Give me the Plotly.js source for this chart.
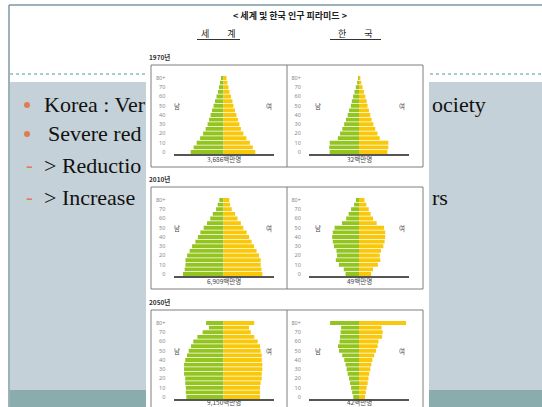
<!DOCTYPE html>
<html><head><meta charset="utf-8">
<script src="https://cdn.plot.ly/plotly-3.0.1.min.js"></script>
<style>html,body{margin:0;padding:0;background:#fff;} #chart{width:542px;height:407px;}</style>
</head><body><div id="chart"></div>
<script>
// ---- data (share of total population, %, by 5-year age group) ----
const ageGroups = ['0-4','5-9','10-14','15-19','20-24','25-29','30-34','35-39','40-44','45-49','50-54','55-59','60-64','65-69','70-74','75-79','80+'];
const tickGroups = ['0-4','10-14','20-24','30-34','40-44','50-54','60-64','70-74','80+'];
const tickText = ['0','10','20','30','40','50','60','70','80+'];

const world1970Male   = [6.6, 6.0, 5.4, 4.7, 4.1, 3.6, 3.2, 2.9, 2.6, 2.3, 2.0, 1.7, 1.4, 1.1, 0.9, 0.7, 0.5];
const world1970Female = [6.4, 5.9, 5.3, 4.6, 4.0, 3.5, 3.2, 2.9, 2.6, 2.3, 2.0, 1.8, 1.5, 1.2, 1.0, 0.8, 0.6];
const korea1970Male   = [6.5, 6.6, 6.5, 4.7, 4.2, 3.7, 3.3, 2.9, 2.5, 2.2, 1.8, 1.6, 1.3, 1.0, 0.7, 0.4, 0.2];
const korea1970Female = [6.3, 6.5, 6.5, 4.6, 4.1, 3.6, 3.2, 2.8, 2.5, 2.2, 1.9, 1.7, 1.4, 1.1, 0.8, 0.5, 0.3];
const world2010Male   = [4.9, 4.7, 4.6, 4.6, 4.4, 4.1, 3.8, 3.4, 3.1, 2.8, 2.4, 2.0, 1.6, 1.3, 0.9, 0.7, 0.5];
const world2010Female = [4.7, 4.6, 4.5, 4.5, 4.3, 4.0, 3.7, 3.4, 3.1, 2.8, 2.4, 2.1, 1.7, 1.4, 1.0, 0.8, 0.7];
const korea2010Male   = [2.2, 2.5, 3.3, 3.8, 3.6, 3.7, 4.1, 4.3, 4.4, 4.3, 4.0, 2.8, 2.1, 1.7, 1.3, 0.8, 0.5];
const korea2010Female = [2.0, 2.3, 3.1, 3.5, 3.4, 3.6, 4.0, 4.2, 4.3, 4.3, 4.1, 2.9, 2.3, 1.9, 1.6, 1.2, 0.9];
const world2050Male   = [3.2, 3.25, 3.25, 3.3, 3.3, 3.4, 3.4, 3.4, 3.3, 3.15, 3.0, 2.8, 2.6, 2.25, 1.8, 1.25, 1.5];
const world2050Female = [3.15, 3.15, 3.15, 3.2, 3.3, 3.3, 3.35, 3.35, 3.3, 3.3, 3.2, 3.15, 2.95, 2.65, 2.35, 2.2, 2.65];
const korea2050Male   = [1.1, 1.3, 1.5, 1.7, 1.9, 2.15, 2.35, 2.55, 2.8, 3.2, 3.8, 4.0, 3.7, 3.6, 3.5, 3.4, 5.5];
const korea2050Female = [1.15, 1.3, 1.45, 1.65, 1.8, 1.95, 2.15, 2.35, 2.55, 2.9, 3.25, 3.55, 3.7, 4.4, 4.5, 4.3, 8.95];

const years = ['1970년','2010년','2050년'];
const worldTotals = ['3,686백만명','6,909백만명','9,150백만명'];
const koreaTotals = ['32백만명','49백만명','42백만명'];

const bulletLeft = ['Korea : Ver', 'Severe red', '> Reductio', '> Increase'];
const bulletRight = ['ociety', '', '', 'rs'];

// ---- layout helpers ----
const W = 542, H = 407;
const px = v => v / W, py = v => 1 - v / H;
const GREEN = '#93c41f', YELLOW = '#f9c80a';
const KFONT = 'Noto Sans CJK KR';
const rowTops = [65, 187, 310];
const worldCx = 223.5, koreaCx = 359;

const panels = [
  {m: world1970Male, f: world1970Female, row: 0, cx: worldCx, R: 10.06, total: worldTotals[0], lm: -47, lf: 45},
  {m: korea1970Male, f: korea1970Female, row: 0, cx: koreaCx, R: 11.1, total: koreaTotals[0], lm: -41, lf: 43},
  {m: world2010Male, f: world2010Female, row: 1, cx: worldCx, R: 6.05, total: worldTotals[1], lm: -47, lf: 45},
  {m: korea2010Male, f: korea2010Female, row: 1, cx: koreaCx, R: 8.2, total: koreaTotals[1], lm: -41, lf: 43},
  {m: world2050Male, f: world2050Female, row: 2, cx: worldCx, R: 4.31, total: worldTotals[2], lm: -47, lf: 45},
  {m: korea2050Male, f: korea2050Female, row: 2, cx: koreaCx, R: 9.52, total: koreaTotals[2], lm: -41, lf: 43}
];

const traces = [];
const layout = {
  width: W, height: H,
  margin: {l: 0, r: 0, t: 0, b: 0},
  paper_bgcolor: '#ffffff', plot_bgcolor: 'rgba(0,0,0,0)',
  showlegend: false, barmode: 'overlay', bargap: 0.18,
  shapes: [], annotations: []
};

// slide background
layout.shapes.push(
  {type: 'rect', xref: 'paper', yref: 'paper', x0: px(10), x1: px(542), y0: py(390), y1: py(82), fillcolor: '#c5d1d8', line: {width: 0}, layer: 'below'},
  {type: 'rect', xref: 'paper', yref: 'paper', x0: px(10), x1: px(542), y0: py(407), y1: py(390), fillcolor: '#8aacac', line: {width: 0}, layer: 'below'},
  {type: 'line', xref: 'paper', yref: 'paper', x0: px(10), x1: px(542), y0: py(74), y1: py(74), line: {color: '#4f9aa0', width: 1, dash: 'dot'}, layer: 'below'},
  {type: 'rect', xref: 'paper', yref: 'paper', x0: px(146), x1: px(429), y0: py(407), y1: py(7), fillcolor: '#ffffff', line: {width: 0}, layer: 'below'},
  {type: 'line', xref: 'paper', yref: 'paper', x0: px(9), x1: px(542), y0: py(5), y1: py(5), line: {color: '#7b98a0', width: 1.5}, layer: 'below'},
  {type: 'line', xref: 'paper', yref: 'paper', x0: px(9), x1: px(9), y0: py(5), y1: py(407), line: {color: '#7b98a0', width: 1.5}, layer: 'below'}
);

// slide bullet text
const rowY = [104, 133, 165, 197];
const textX = [42, 46, 42, 42];
rowY.forEach((y, i) => {
  if (i < 2) {
    layout.shapes.push({type: 'circle', xref: 'paper', yref: 'paper', x0: px(24), x1: px(30), y0: py(y + 4), y1: py(y - 2), fillcolor: '#e07b53', line: {width: 0}, layer: 'below'});
  } else {
    layout.annotations.push({xref: 'paper', yref: 'paper', x: px(24), y: py(y), xanchor: 'left', yanchor: 'middle', text: '-', showarrow: false, font: {family: 'Liberation Serif', size: 20, color: '#e07b53'}});
  }
  layout.annotations.push({xref: 'paper', yref: 'paper', x: px(textX[i]), y: py(y), xanchor: 'left', yanchor: 'middle', text: bulletLeft[i], showarrow: false, font: {family: 'Liberation Serif', size: 22, color: '#111111'}});
  if (bulletRight[i]) {
    layout.annotations.push({xref: 'paper', yref: 'paper', x: px(430), y: py(y), xanchor: 'left', yanchor: 'middle', text: bulletRight[i], showarrow: false, font: {family: 'Liberation Serif', size: 22, color: '#111111'}});
  }
});

// embedded picture titles
layout.annotations.push(
  {xref: 'paper', yref: 'paper', x: px(290), y: py(16), xanchor: 'center', yanchor: 'middle', text: '<b>&lt; 세계 및 한국 인구 피라미드 &gt;</b>', showarrow: false, font: {family: KFONT, size: 9, color: '#222'}},
  {xref: 'paper', yref: 'paper', x: px(218), y: py(33), xanchor: 'center', yanchor: 'middle', text: '세　　계', showarrow: false, font: {family: KFONT, size: 9, color: '#222'}},
  {xref: 'paper', yref: 'paper', x: px(355), y: py(33), xanchor: 'center', yanchor: 'middle', text: '한　　국', showarrow: false, font: {family: KFONT, size: 9, color: '#222'}}
);
layout.shapes.push(
  {type: 'line', xref: 'paper', yref: 'paper', x0: px(197), x1: px(240), y0: py(39.5), y1: py(39.5), line: {color: '#333', width: 1}, layer: 'below'},
  {type: 'line', xref: 'paper', yref: 'paper', x0: px(330), x1: px(381), y0: py(39.5), y1: py(39.5), line: {color: '#333', width: 1}, layer: 'below'}
);

// row frames and year labels
rowTops.forEach((T, r) => {
  const bottom = Math.min(T + 102, 412);
  layout.shapes.push(
    {type: 'rect', xref: 'paper', yref: 'paper', x0: px(151), x1: px(423), y0: py(bottom), y1: py(T), line: {color: '#7f7f7f', width: 1}, fillcolor: 'rgba(0,0,0,0)', layer: 'below'},
    {type: 'line', xref: 'paper', yref: 'paper', x0: px(287), x1: px(287), y0: py(bottom), y1: py(T), line: {color: '#7f7f7f', width: 1}, layer: 'below'}
  );
  layout.annotations.push({xref: 'paper', yref: 'paper', x: px(147), y: py(T - 8), xanchor: 'left', yanchor: 'middle', text: '<b>' + years[r] + '</b>', showarrow: false, font: {family: KFONT, size: 6.5, color: '#333'}});
});

// pyramids
panels.forEach((p, i) => {
  const n = i === 0 ? '' : String(i + 1);
  const T = rowTops[p.row];
  const xa = 'x' + n, ya = 'y' + n;
  traces.push({type: 'bar', orientation: 'h', y: ageGroups, x: p.m.map(v => -v), xaxis: xa, yaxis: ya, marker: {color: GREEN, line: {width: 0}}, hoverinfo: 'skip'});
  traces.push({type: 'bar', orientation: 'h', y: ageGroups, x: p.f, xaxis: xa, yaxis: ya, marker: {color: YELLOW, line: {width: 0}}, hoverinfo: 'skip'});
  layout['xaxis' + n] = {domain: [px(p.cx - 50), px(p.cx + 50)], range: [-p.R, p.R], anchor: ya, showticklabels: false, showgrid: false, zeroline: false, showline: true, linecolor: '#555', linewidth: 1.5, ticks: '', fixedrange: true};
  layout['yaxis' + n] = {domain: [py(T + 89.3), py(T + 10.7)], anchor: xa, type: 'category', categoryorder: 'array', categoryarray: ageGroups, range: [-0.5, 16.5], tickvals: tickGroups, ticktext: tickText, tickfont: {size: 5.5, color: '#888', family: 'Noto Sans'}, ticks: 'outside', ticklen: 6, tickcolor: 'rgba(0,0,0,0)', showgrid: false, zeroline: false, showline: false, fixedrange: true};
  const totalY = p.row === 2 ? T + 91.5 : T + 94;
  layout.annotations.push(
    {xref: 'paper', yref: 'paper', x: px(p.cx), y: py(totalY), xanchor: 'center', yanchor: 'middle', text: p.total, showarrow: false, font: {family: KFONT, size: 6.5, color: '#444'}},
    {xref: 'paper', yref: 'paper', x: px(p.cx + p.lm), y: py(T + 41), xanchor: 'center', yanchor: 'middle', text: '남', showarrow: false, font: {family: KFONT, size: 6.5, color: '#444'}},
    {xref: 'paper', yref: 'paper', x: px(p.cx + p.lf), y: py(T + 41), xanchor: 'center', yanchor: 'middle', text: '여', showarrow: false, font: {family: KFONT, size: 6.5, color: '#444'}}
  );
});

Plotly.newPlot('chart', traces, layout, {staticPlot: true, displayModeBar: false});
</script></body></html>
